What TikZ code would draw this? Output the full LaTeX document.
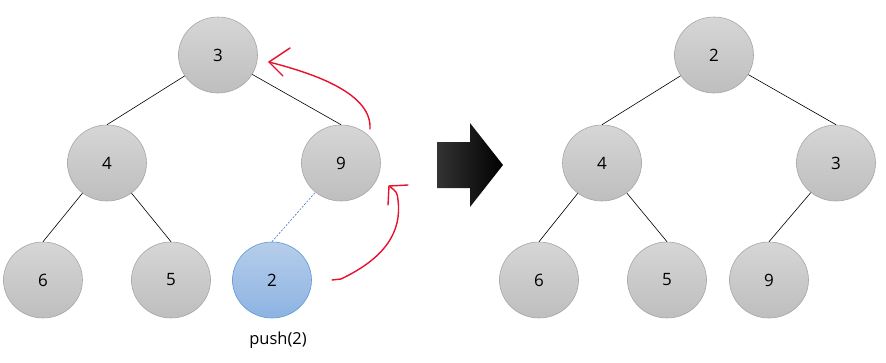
\documentclass[tikz,border=0pt]{standalone}
\usepackage{fontspec}
\setmainfont{Open Sans}
\usetikzlibrary{shapes.geometric}
\definecolor{nodeedge}{HTML}{A6A6A6}
\definecolor{nodetop}{HTML}{D6D6D6}
\definecolor{nodebot}{HTML}{BEBEBE}
\definecolor{pushedge}{HTML}{5B9BD5}
\definecolor{pushtop}{HTML}{B6CDEA}
\definecolor{pushbot}{HTML}{8DB3E2}
\definecolor{dashblue}{HTML}{4472C4}
\definecolor{penred}{HTML}{E8112D}

\begin{document}
\begin{tikzpicture}[x=1pt, y=-1pt,
    heapnode/.style={ellipse, draw=nodeedge, line width=0.6pt, top color=nodetop, bottom color=nodebot,
        minimum width=79pt, minimum height=76pt, font=\fontsize{17}{20}\selectfont},
    pushnode/.style={heapnode, draw=pushedge, top color=pushtop, bottom color=pushbot},
    link/.style={black, line width=0.6pt},
    redpen/.style={draw=penred, line width=1.4pt, line cap=round, line join=round}]
    \useasboundingbox (0,0) rectangle (886,362);
    % left heap, after the push
    \foreach \name/\x/\y/\lab in {l3/218/55/3, l4/107/163/4, l9/341/163/9, l6/43/280/6, l5/171/280/5} {
        \node[heapnode] (\name) at (\x,\y) {\lab};
    }
    \node[pushnode] (l2) at (272,280) {2};
    \node[font=\fontsize{16.5}{20}\selectfont] (pushlab) at (278,340) {push(2)};
    \foreach \p/\c in {l3/l4, l3/l9, l4/l6, l4/l5} {
        \draw[link] (\p) -- (\c.north);
    }
    \draw[dashblue, line width=0.6pt, dash pattern=on 2pt off 1.5pt] (l2.north) -- (l9);
    % red sift-up strokes
    \coordinate (upA) at (370,129);
    \coordinate (tipA) at (269,62);
    \draw[redpen] (upA) .. controls (372,95) and (320,75) .. (tipA);
    \draw[redpen] (290,48) -- (tipA) -- (283,76);
    \coordinate (upB) at (332,280);
    \coordinate (tipB) at (389,186);
    \draw[redpen] (upB) -- (341,279) .. controls (385,258) and (402,232) .. (398,200) .. controls (397,192) .. (tipB);
    \draw[redpen] (408,185) -- (tipB) -- (388,205);
    % big arrow
    \path[left color=black!80, right color=black] (437,142) -- (470,142) -- (470,123) -- (503,165)
        -- (470,207) -- (470,188) -- (437,188) -- cycle;
    % right heap, after sifting up
    \foreach \name/\x/\y/\lab in {r2/714/55/2, r4/602/163/4, r3/836/163/3, r6/539/280/6, r5/667/280/5, r9/769/280/9} {
        \node[heapnode] (\name) at (\x,\y) {\lab};
    }
    \foreach \p/\c in {r2/r4, r2/r3, r4/r6, r4/r5, r3/r9} {
        \draw[link] (\p) -- (\c.north);
    }
\end{tikzpicture}
\end{document}
